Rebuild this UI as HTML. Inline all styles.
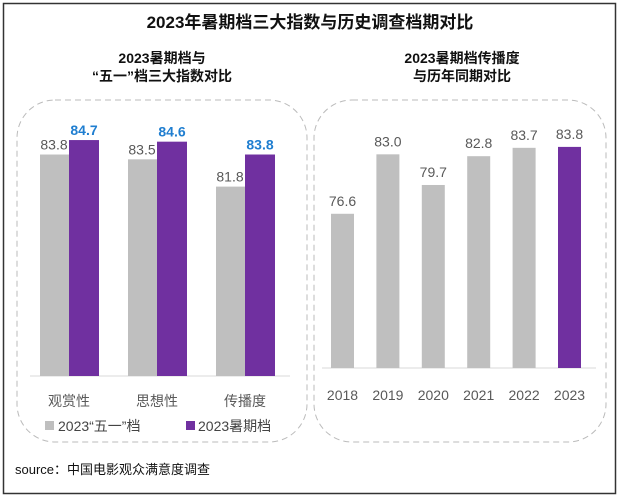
<!DOCTYPE html>
<html><head><meta charset="utf-8"><style>
body{margin:0;width:620px;height:499px;background:#fff;font-family:"Liberation Sans","Noto Sans CJK SC",sans-serif;overflow:hidden}
svg text{font-family:"Liberation Sans","Noto Sans CJK SC",sans-serif}
</style></head><body>
<svg width="620" height="499">
<rect x="3.5" y="3.5" width="612" height="490" fill="#fff" stroke="#333" stroke-width="1.5"/>
<text x="310" y="28" text-anchor="middle" font-size="17" font-weight="bold" fill="#111">2023年暑期档三大指数与历史调查档期对比</text>
<text x="162" y="63" text-anchor="middle" font-size="14" font-weight="bold" fill="#111">2023暑期档与</text>
<text x="162" y="81" text-anchor="middle" font-size="14" font-weight="bold" fill="#111">“五一”档三大指数对比</text>
<text x="462" y="63" text-anchor="middle" font-size="14" font-weight="bold" fill="#111">2023暑期档传播度</text>
<text x="462" y="81" text-anchor="middle" font-size="14" font-weight="bold" fill="#111">与历年同期对比</text>
<rect x="17" y="100" width="290" height="342" rx="38" fill="none" stroke="#bbb" stroke-dasharray="6,4"/>
<rect x="314" y="100" width="292" height="342" rx="38" fill="none" stroke="#bbb" stroke-dasharray="6,4"/>
<g id="left"></g><g id="right"></g>
<rect x="45" y="421" width="9" height="9" fill="#bfbfbf"/>
<text x="58" y="431" font-size="14" fill="#444">2023“五一”档</text>
<rect x="186" y="421" width="9" height="9" fill="#7030a0"/>
<text x="198" y="431" font-size="14" fill="#444">2023暑期档</text>
<text x="15" y="474" font-size="13" fill="#111">source：中国电影观众满意度调查</text>
</svg>
<script>
const cats=["观赏性","思想性","传播度"];
const wuyi=[83.8,83.5,81.8];
const summer=[84.7,84.6,83.8];
const years=["2018","2019","2020","2021","2022","2023"];
const spread=[76.6,83.0,79.7,82.8,83.7,83.8];
const NS="http://www.w3.org/2000/svg";
function mk(p,t,a){const e=document.createElementNS(NS,t);for(const k in a)e.setAttribute(k,a[k]);p.appendChild(e);return e;}
// left chart
const L=document.getElementById('left');
const lBase=376,lMin=70,lK=16.05;
const ly=v=>lBase-(v-lMin)*lK;
const lx=i=>40+i*88;
mk(L,'line',{x1:30,x2:290,y1:lBase,y2:lBase,stroke:'#d9d9d9'});
cats.forEach((c,i)=>{
 let r=mk(L,'rect',{x:lx(i),y:ly(wuyi[i]),width:29,height:lBase-ly(wuyi[i]),fill:'#bfbfbf'});
 
 
 let r2=mk(L,'rect',{x:lx(i)+29,y:ly(summer[i]),width:30,height:lBase-ly(summer[i]),fill:'#7030a0'});
 
 
 let t=mk(L,'text',{x:lx(i)+14,y:ly(wuyi[i])-5,'text-anchor':'middle','font-size':14,fill:'#595959'});t.textContent=wuyi[i].toFixed(1);
 
 
 let t2=mk(L,'text',{x:lx(i)+44,y:ly(summer[i])-5,'text-anchor':'middle','font-size':14,'font-weight':'bold',fill:'#1f7ed0'});t2.textContent=summer[i].toFixed(1);
 
 
 let c1=mk(L,'text',{x:lx(i)+29,y:406,'text-anchor':'middle','font-size':14,fill:'#595959'});c1.textContent=c;
 
 
});
// right chart
const R=document.getElementById('right');
const rBase=368,rMin=60,rK=9.29;
const ry=v=>rBase-(v-rMin)*rK;
const rx=i=>331+i*45.4;
mk(R,'line',{x1:322,x2:596,y1:rBase,y2:rBase,stroke:'#d9d9d9'});
years.forEach((y,i)=>{
 let r=mk(R,'rect',{x:rx(i),y:ry(spread[i]),width:23,height:rBase-ry(spread[i]),fill:i==years.length-1?'#7030a0':'#bfbfbf'});
 
 
 let t=mk(R,'text',{x:rx(i)+11.5,y:ry(spread[i])-8,'text-anchor':'middle','font-size':14,fill:'#595959'});t.textContent=spread[i].toFixed(1);
 
 
 let l=mk(R,'text',{x:rx(i)+11.5,y:400,'text-anchor':'middle','font-size':14,fill:'#595959'});l.textContent=y;
 
 
});
</script>
</body></html>
